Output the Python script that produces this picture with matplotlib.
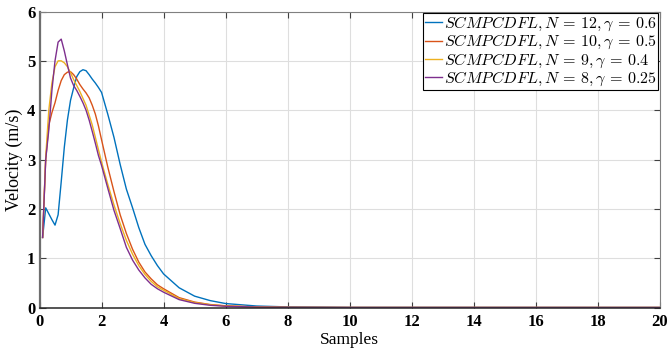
import numpy as np
import matplotlib
matplotlib.use('Agg')
import matplotlib.pyplot as plt

# フォント設定 (Times系 + 数式はComputer Modern)
plt.rcParams['font.family'] = ['Liberation Serif', 'DejaVu Serif']
plt.rcParams['mathtext.fontset'] = 'cm'

# サンプル時刻
samples = [0.1, 0.2, 0.3, 0.4, 0.5, 0.6, 0.7, 0.8, 0.9, 1.0,
           1.1, 1.2, 1.3, 1.4, 1.5, 1.6, 1.7, 1.8, 1.9, 2.0,
           2.2, 2.4, 2.6, 2.8, 3.0, 3.2, 3.4, 3.6, 3.8, 4.0,
           4.5, 5.0, 5.5, 6.0, 7.0, 8.0, 10.0, 20.0]

# 各設定の速度 (m/s)
vel_n12 = [1.42, 2.02, 1.90, 1.78, 1.67, 1.88, 2.55, 3.25, 3.80, 4.20,
           4.45, 4.68, 4.78, 4.82, 4.80, 4.72, 4.63, 4.55, 4.46, 4.36,
           3.92, 3.45, 2.90, 2.40, 2.02, 1.62, 1.28, 1.05, 0.85, 0.68,
           0.40, 0.23, 0.14, 0.08, 0.03, 0.012, 0.002, 0.0]
vel_n10 = [1.42, 3.00, 3.70, 3.95, 4.15, 4.40, 4.60, 4.72, 4.77, 4.78,
           4.72, 4.63, 4.52, 4.43, 4.35, 4.25, 4.10, 3.92, 3.68, 3.40,
           2.85, 2.35, 1.88, 1.50, 1.18, 0.92, 0.72, 0.58, 0.46, 0.38,
           0.20, 0.11, 0.06, 0.035, 0.012, 0.004, 0.0005, 0.0]
vel_n9 = [1.42, 3.05, 4.00, 4.55, 4.88, 5.00, 5.00, 4.96, 4.88, 4.76,
          4.62, 4.50, 4.38, 4.24, 4.10, 3.90, 3.70, 3.45, 3.20, 2.95,
          2.50, 2.08, 1.70, 1.36, 1.08, 0.85, 0.67, 0.53, 0.42, 0.35,
          0.18, 0.10, 0.055, 0.03, 0.01, 0.003, 0.0003, 0.0]
vel_n8 = [1.42, 3.00, 3.60, 4.40, 5.00, 5.38, 5.44, 5.20, 4.92, 4.65,
          4.50, 4.40, 4.28, 4.15, 4.00, 3.80, 3.57, 3.33, 3.08, 2.88,
          2.42, 1.97, 1.60, 1.22, 0.96, 0.76, 0.60, 0.47, 0.38, 0.31,
          0.16, 0.085, 0.045, 0.025, 0.008, 0.0025, 0.0002, 0.0]

labels = [r'$SCMPCDFL, N\,=\,12, \gamma\,=\,0.6$',
          r'$SCMPCDFL, N\,=\,10, \gamma\,=\,0.5$',
          r'$SCMPCDFL, N\,=\,9, \gamma\,=\,0.4$',
          r'$SCMPCDFL, N\,=\,8, \gamma\,=\,0.25$']
colors = ['#0072BD', '#D95319', '#EDB120', '#7E2F8E']

fig = plt.figure(figsize=(6.68, 3.51), dpi=100)
ax = fig.add_axes([39.5 / 668, 43.5 / 351, 620.5 / 668, 296 / 351])

for vel, lab, col in zip([vel_n12, vel_n10, vel_n9, vel_n8], labels, colors):
    ax.plot(samples, vel, color=col, lw=1.0, label=lab)

ax.set_xlim(0, 20)
ax.set_ylim(0, 6)
ax.set_xticks(np.arange(0, 21, 2))
ax.set_yticks(np.arange(0, 7, 1))
ax.grid(True, color='#dedede', lw=0.8)
ax.set_axisbelow(True)

# 枠線 (左は灰色太め、下は黒)
ax.spines['left'].set_color('#6e6e6e')
ax.spines['left'].set_linewidth(1.6)
ax.spines['bottom'].set_color('#262626')
ax.spines['bottom'].set_linewidth(1.1)
ax.spines['top'].set_color('#808080')
ax.spines['top'].set_linewidth(0.8)
ax.spines['right'].set_color('#808080')
ax.spines['right'].set_linewidth(0.8)
ax.tick_params(direction='in', length=4, width=0.8, color='#404040',
               top=True, right=True, labelsize=12)
ax.tick_params(axis='x', pad=5)
ax.tick_params(axis='y', pad=3)
for t in ax.get_xticklabels() + ax.get_yticklabels():
    t.set_fontweight('bold')

ax.set_xlabel('Samples', fontsize=12.5, labelpad=1)
ax.set_ylabel('Velocity (m/s)', fontsize=13, labelpad=3)

leg = ax.legend(loc='upper right', fontsize=11.6, handlelength=1.1,
                handletextpad=0.1, labelspacing=0.0, borderpad=0.1,
                borderaxespad=0.1, fancybox=False, framealpha=1)
leg.get_frame().set_edgecolor('black')
leg.get_frame().set_linewidth(0.8)

fig.savefig('out.png', dpi=100)
